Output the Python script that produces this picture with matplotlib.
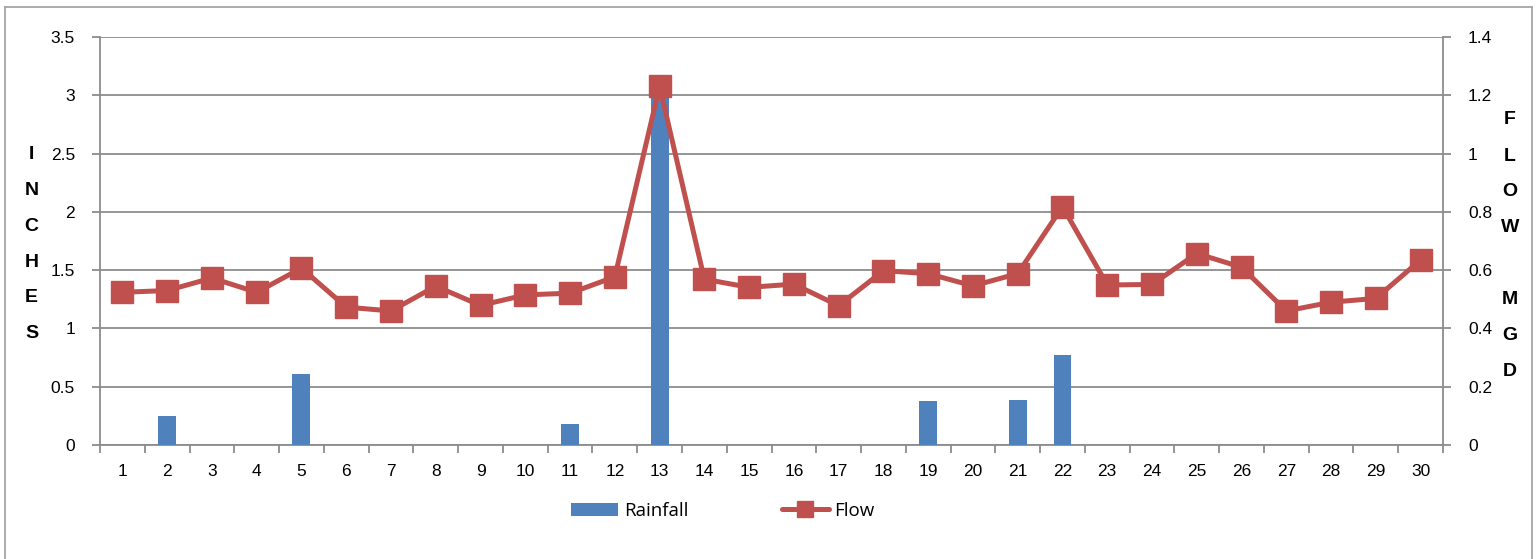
import numpy as np
import matplotlib
matplotlib.use("Agg")
import matplotlib.pyplot as plt
from matplotlib.patches import Patch
from matplotlib.lines import Line2D

days = list(range(1, 31))
day_labels = [str(d) for d in days]
rainfall = [0, 0.25, 0, 0, 0.61, 0, 0, 0, 0, 0,
            0.18, 0, 3.02, 0, 0, 0, 0, 0, 0.38, 0,
            0.39, 0.77, 0, 0, 0, 0, 0, 0, 0, 0]
flow = [0.524, 0.530, 0.573, 0.524, 0.607, 0.473, 0.460, 0.545, 0.479, 0.515,
        0.521, 0.577, 1.231, 0.569, 0.541, 0.552, 0.478, 0.598, 0.588, 0.546,
        0.588, 0.818, 0.549, 0.551, 0.657, 0.610, 0.460, 0.490, 0.503, 0.635]
left_ticks = [0, 0.5, 1, 1.5, 2, 2.5, 3, 3.5]
left_tick_labels = ["0", "0.5", "1", "1.5", "2", "2.5", "3", "3.5"]
right_ticks = [0, 0.2, 0.4, 0.6, 0.8, 1.0, 1.2, 1.4]
right_tick_labels = ["0", "0.2", "0.4", "0.6", "0.8", "1", "1.2", "1.4"]

BLUE = "#4F81BD"
RED = "#C0504D"
GRID = "#8C8C8C"
TICKFONT = "Liberation Sans"

W, H = 1540, 559
fig = plt.figure(figsize=(W / 100, H / 100), dpi=100)
L, R, B, T = 100, 1443, 445, 37
ax = fig.add_axes([L / W, 1 - B / H, (R - L) / W, (B - T) / H])
ax2 = ax.twinx()

x = np.array(days)
ax.bar(x, rainfall, width=0.4, color=BLUE, zorder=3)
ax.set_xlim(0.5, 30.5)
ax.set_ylim(0, 3.5)
ax.set_yticks(left_ticks)
ax.set_yticklabels(left_tick_labels, fontsize=12.5, family=TICKFONT)
ax.set_xticks(x)
ax.set_xticklabels(day_labels, fontsize=12.5, family=TICKFONT)
ax.set_xticks(np.arange(0.5, 31, 1), minor=True)
ax.tick_params(axis="x", which="major", length=0, pad=14)
ax.tick_params(axis="x", which="minor", length=6, width=1.3, color=GRID, direction="out")
ax.tick_params(axis="y", length=6, width=1.3, color=GRID, pad=12)
ax.yaxis.grid(True, color=GRID, linewidth=1.3, zorder=0)
ax.set_axisbelow(True)

ax2.plot(x, flow, color=RED, linewidth=3.6, marker="s", markersize=16,
         markerfacecolor=RED, markeredgecolor=RED, zorder=4)
ax2.set_ylim(0, 1.4)
ax2.set_yticks(right_ticks)
ax2.set_yticklabels(right_tick_labels, fontsize=12.5, family=TICKFONT)
ax2.tick_params(axis="y", length=6, width=1.3, color=GRID, pad=12)

for a in (ax, ax2):
    a.spines["top"].set_visible(False)
    for s in ("left", "right", "bottom"):
        a.spines[s].set_color(GRID)
        a.spines[s].set_linewidth(1.3)
ax.spines["right"].set_visible(False)
ax2.spines["left"].set_visible(False)
ax2.spines["bottom"].set_visible(False)

# stacked axis titles
left_title = "INCHES"
for i, ch in enumerate(left_title):
    fig.text(31.5 / W, 1 - (155 + i * 35.7) / H, ch, ha="center", va="center",
             fontsize=14, fontweight="bold", family=TICKFONT)
right_title = ["F", "L", "O", "W", "", "M", "G", "D"]
for i, ch in enumerate(right_title):
    if ch:
        fig.text(1510 / W, 1 - (120 + i * 36) / H, ch, ha="center", va="center",
                 fontsize=14, fontweight="bold", family=TICKFONT)

handles = [Patch(facecolor=BLUE, edgecolor="none"),
           Line2D([0], [0], color=RED, linewidth=3.6, marker="s", markersize=12,
                  solid_capstyle="round")]
fig.legend(handles, ["Rainfall", "Flow"], loc="center", ncol=2,
           bbox_to_anchor=(723 / W, 1 - 511 / H), frameon=False,
           prop={"family": "Open Sans", "size": 13.5},
           handlelength=2.5, handletextpad=0.3, columnspacing=5.0)

# chart border
bx0, bx1, by0 = 5 / W, 1532 / W, 1 - 7 / H
for xs, ys in (([bx0, bx0], [0, by0]), ([bx0, bx1], [by0, by0]), ([bx1, bx1], [by0, 0])):
    fig.add_artist(Line2D(xs, ys, color="#A6A6A6", linewidth=1.3, transform=fig.transFigure))

fig.savefig("out.png", dpi=100)
